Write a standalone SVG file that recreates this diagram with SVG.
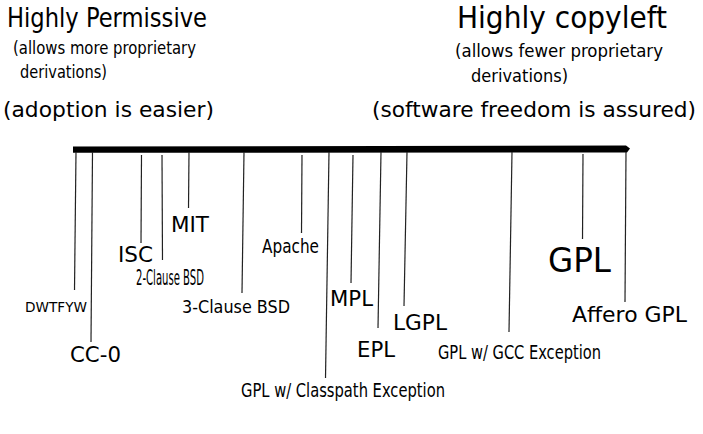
<svg xmlns="http://www.w3.org/2000/svg" width="703" height="434" viewBox="0 0 703 434">
<style>
.w{font-family:"DejaVu Sans","Liberation Sans",sans-serif;fill:#000}
.c{font-family:"DejaVu Sans Condensed","DejaVu Sans","Liberation Sans",sans-serif;fill:#000}
.ln{stroke:#222;stroke-width:1.2;fill:none}
</style>
<rect width="703" height="434" fill="#fff"/>
<g id="headers">
<text class="c" x="7" y="27" font-size="27" textLength="200" lengthAdjust="spacingAndGlyphs">Highly Permissive</text>
<text class="c" x="13" y="54" font-size="18" textLength="183" lengthAdjust="spacingAndGlyphs">(allows more proprietary</text>
<text class="c" x="20" y="78" font-size="18" textLength="87" lengthAdjust="spacingAndGlyphs">derivations)</text>
<text class="w" x="3" y="117" font-size="21.5" textLength="211" lengthAdjust="spacingAndGlyphs">(adoption is easier)</text>
<text class="c" x="457" y="28" font-size="30" textLength="210" lengthAdjust="spacingAndGlyphs">Highly copyleft</text>
<text class="c" x="455" y="57" font-size="18" textLength="208" lengthAdjust="spacingAndGlyphs">(allows fewer proprietary</text>
<text class="c" x="471" y="82" font-size="18" textLength="97" lengthAdjust="spacingAndGlyphs">derivations)</text>
<text class="w" x="372" y="117" font-size="21.5" textLength="324" lengthAdjust="spacingAndGlyphs">(software freedom is assured)</text>
</g>
<g id="axis">
<polygon points="73,146.5 626,145.5 630,148.5 627,152.5 73,152.8" fill="#000"/>
</g>
<g id="connectors">
<line class="ln" x1="76" y1="152" x2="74.5" y2="290"/>
<line class="ln" x1="92.5" y1="152" x2="91" y2="342"/>
<line class="ln" x1="141.5" y1="155" x2="141" y2="243"/>
<line class="ln" x1="162" y1="155" x2="162.5" y2="260"/>
<line class="ln" x1="189" y1="152" x2="188.5" y2="208"/>
<line class="ln" x1="244" y1="152" x2="242" y2="293"/>
<line class="ln" x1="302" y1="155" x2="301.5" y2="233"/>
<line class="ln" x1="329" y1="152" x2="325.5" y2="378"/>
<line class="ln" x1="353" y1="155" x2="351" y2="283"/>
<line class="ln" x1="381" y1="152" x2="378" y2="328"/>
<line class="ln" x1="407" y1="152" x2="404" y2="306"/>
<line class="ln" x1="512" y1="152" x2="509" y2="332"/>
<line class="ln" x1="583" y1="154" x2="582.5" y2="239"/>
<line class="ln" x1="626" y1="152" x2="625" y2="302"/>
</g>
<g id="n-dwtfyw"><text class="w" x="25" y="312" font-size="14" textLength="62" lengthAdjust="spacingAndGlyphs">DWTFYW</text></g>
<g id="n-cc0"><text class="w" x="70" y="362" font-size="22" textLength="51" lengthAdjust="spacingAndGlyphs">CC-0</text></g>
<g id="n-isc"><text class="w" x="118" y="262" font-size="21.5" textLength="35" lengthAdjust="spacingAndGlyphs">ISC</text></g>
<g id="n-2bsd"><text class="c" x="136" y="285" font-size="21.5" textLength="68" lengthAdjust="spacingAndGlyphs">2-Clause BSD</text></g>
<g id="n-mit"><text class="w" x="171" y="232" font-size="21.5" textLength="38" lengthAdjust="spacingAndGlyphs">MIT</text></g>
<g id="n-3bsd"><text class="c" x="182" y="313" font-size="18.5" textLength="108" lengthAdjust="spacingAndGlyphs">3-Clause BSD</text></g>
<g id="n-apache"><text class="c" x="262" y="253" font-size="20" textLength="57" lengthAdjust="spacingAndGlyphs">Apache</text></g>
<g id="n-classpath"><text class="c" x="241" y="397" font-size="19" textLength="204" lengthAdjust="spacingAndGlyphs">GPL w/ Classpath Exception</text></g>
<g id="n-mpl"><text class="w" x="330" y="306" font-size="21.5" textLength="43" lengthAdjust="spacingAndGlyphs">MPL</text></g>
<g id="n-epl"><text class="w" x="357" y="357" font-size="21.5" textLength="38" lengthAdjust="spacingAndGlyphs">EPL</text></g>
<g id="n-lgpl"><text class="w" x="393" y="330" font-size="21.5" textLength="54" lengthAdjust="spacingAndGlyphs">LGPL</text></g>
<g id="n-gcc"><text class="c" x="438" y="359" font-size="19.5" textLength="163" lengthAdjust="spacingAndGlyphs">GPL w/ GCC Exception</text></g>
<g id="n-gpl"><text class="w" x="548" y="272" font-size="33" textLength="63" lengthAdjust="spacingAndGlyphs">GPL</text></g>
<g id="n-affero"><text class="w" x="572" y="322" font-size="22" textLength="115" lengthAdjust="spacingAndGlyphs">Affero GPL</text></g>
</svg>
